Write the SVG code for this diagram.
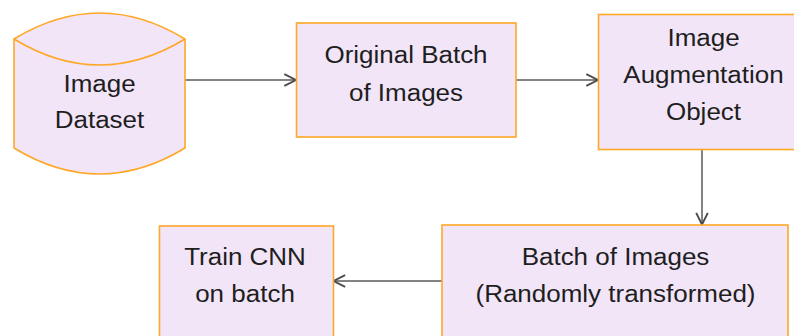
<svg xmlns="http://www.w3.org/2000/svg" width="794" height="336" viewBox="0 0 794 336">
<defs>
<style>
.node{fill:#f2e5f8;stroke:#ffa726;stroke-width:1.6}
.lbl{font-family:"Liberation Sans",Arial,Helvetica,sans-serif;font-size:24px;fill:#1e1e1e;text-anchor:middle}
.edge{fill:none;stroke:#5a5a5a;stroke-width:1.5}
</style>
<marker id="arr" markerUnits="userSpaceOnUse" markerWidth="14" markerHeight="14" viewBox="0 0 12 12" refX="11" refY="6" orient="auto">
<path d="M1,1 L11,6 L1,11" fill="none" stroke="#4a4a4a" stroke-width="1.6"/>
</marker>
</defs>
<rect width="794" height="336" fill="#ffffff"/>
<g id="connectors">
<path class="edge" d="M185,80 H296" marker-end="url(#arr)"/>
<path class="edge" d="M516,80 H598" marker-end="url(#arr)"/>
<path class="edge" d="M702,149.5 V224.5" marker-end="url(#arr)"/>
<path class="edge" d="M442,281 H333.5" marker-end="url(#arr)"/>
</g>
<g id="image-dataset">
<path class="node" d="M14,39 Q99.5,-13 185,39 V148 Q99.5,200 14,148 Z"/>
<path class="node" fill="none" style="fill:none" d="M14,39 Q99.5,91 185,39"/>
<g transform="translate(99.5 0) scale(1.083 1)">
<text class="lbl" x="0" y="92">Image</text>
<text class="lbl" x="0" y="128">Dataset</text>
</g>
</g>
<g id="original-batch">
<rect class="node" x="296.5" y="23" width="219.5" height="114"/>
<g transform="translate(406 0) scale(1.083 1)">
<text class="lbl" x="0" y="63">Original Batch</text>
<text class="lbl" x="0" y="101.5">of Images</text>
</g>
</g>
<g id="augmentation-object">
<rect class="node" x="598.5" y="14.5" width="210" height="135"/>
<g transform="translate(703.5 0) scale(1.083 1)">
<text class="lbl" x="0" y="46.5">Image</text>
<text class="lbl" x="0" y="83.5">Augmentation</text>
<text class="lbl" x="0" y="120">Object</text>
</g>
</g>
<g id="batch-transformed">
<rect class="node" x="442" y="225" width="346" height="130"/>
<g transform="translate(615.5 0) scale(1.083 1)">
<text class="lbl" x="0" y="265">Batch of Images</text>
<text class="lbl" x="0" y="302">(Randomly transformed)</text>
</g>
</g>
<g id="train-cnn">
<rect class="node" x="159.5" y="226" width="174" height="130"/>
<g transform="translate(245 0) scale(1.083 1)">
<text class="lbl" x="0" y="265">Train CNN</text>
<text class="lbl" x="0" y="302">on batch</text>
</g>
</g>
</svg>
